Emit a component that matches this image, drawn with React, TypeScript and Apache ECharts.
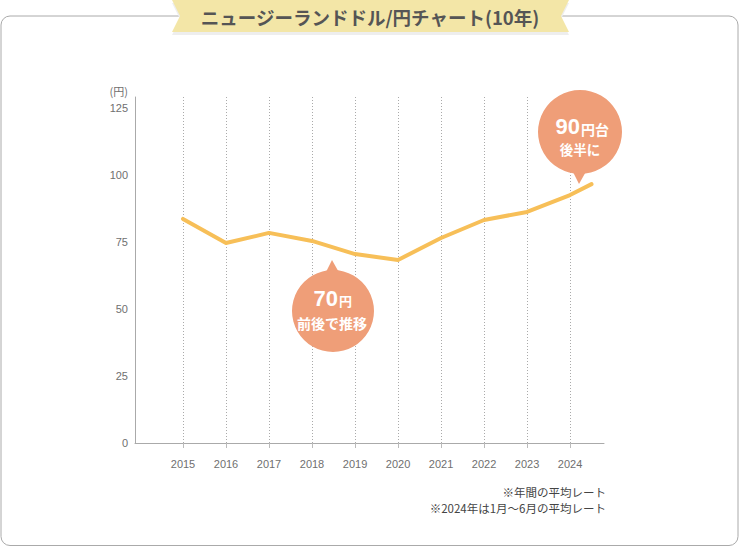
import React, { useEffect, useRef } from "react";
import * as echarts from "echarts";

const TITLE = "ニュージーランドドル/円チャート(10年)";
const tickYears = [2015, 2016, 2017, 2018, 2019, 2020, 2021, 2022, 2023, 2024];
const pointX = [2015, 2016, 2017, 2018, 2019, 2020, 2021, 2022, 2023, 2024, 2024.5];
const rateValues = [83.6, 74.6, 78.4, 75.4, 70.5, 68.3, 76.5, 83.2, 86.2, 92.5, 96.6];
const yTicks = [0, 25, 50, 75, 100, 125];
const yUnit = "(円)";
const notes = ["※年間の平均レート", "※2024年は1月〜6月の平均レート"];

const NUM_FONT = '"Liberation Sans", "DejaVu Sans", sans-serif';
const JP_FONT = '"Noto Sans CJK JP", "Noto Sans", sans-serif';
const BUBBLE = "#ef9e78";

function txt(x: number, y: number, text: string, font: string, align: string, fill = "#fff", z = 11) {
  return {
    type: "text",
    z,
    x,
    y,
    style: { text, fill, font, align, verticalAlign: "middle" },
  };
}

export default function App() {
  const ref = useRef<HTMLDivElement>(null);
  useEffect(() => {
    if (!ref.current) return;
    const chart = echarts.init(ref.current, null, { renderer: "svg" });
    const data = pointX.map((x, i) => [x, rateValues[i]]);
    chart.setOption({
      animation: false,
      backgroundColor: "#fff",
      grid: { left: 135, right: 136, top: 97, bottom: 104 },
      xAxis: {
        type: "value",
        min: 2013.884,
        max: 2024.79,
        axisLine: { show: true, onZero: false, lineStyle: { color: "#aaa", width: 1 } },
        axisTick: { show: true, customValues: tickYears, length: 5, lineStyle: { color: "#bbb" } },
        axisLabel: {
          customValues: tickYears,
          formatter: (v: number) => String(Math.round(v)),
          color: "#6f6f6f",
          fontSize: 11,
          fontFamily: NUM_FONT,
          margin: 15,
        },
        splitLine: { show: true, lineStyle: { type: [1, 2], color: "#aaa", width: 1 } },
      },
      yAxis: {
        type: "value",
        min: 0,
        max: 129.1,
        axisLine: { show: true, onZero: false, lineStyle: { color: "#aaa", width: 1 } },
        axisTick: { show: false },
        splitLine: { show: false },
        axisLabel: {
          customValues: yTicks,
          color: "#6f6f6f",
          fontSize: 11,
          fontFamily: NUM_FONT,
          margin: 7,
        },
      },
      series: [
        {
          type: "line",
          data,
          showSymbol: false,
          symbol: "none",
          lineStyle: { color: "#f7bf58", width: 4, cap: "round", join: "round" },
        },
      ],
      graphic: [
        {
          type: "rect",
          z: -10,
          shape: { x: 1, y: 16, width: 737, height: 529.5, r: 9 },
          style: { fill: "#fff", stroke: "#aaa", lineWidth: 1 },
        },
        {
          type: "polygon",
          z: 1,
          shape: { points: [[172, 3], [569, 3], [561, 19], [569, 35], [172, 35], [180, 19]] },
          style: { fill: "#eeeeee" },
        },
        {
          type: "polygon",
          z: 2,
          shape: { points: [[172, 0], [569, 0], [561, 16], [569, 32], [172, 32], [180, 16]] },
          style: { fill: "#f3e6a7" },
        },
        txt(370, 17, TITLE, `bold 18.5px ${JP_FONT}`, "center", "#555", 3),
        txt(128, 91, yUnit, `11px ${JP_FONT}`, "right", "#6f6f6f", 3),
        txt(606, 491.5, notes[0], `11.5px ${JP_FONT}`, "right", "#444", 3),
        txt(606, 507.5, notes[1], `11.5px ${JP_FONT}`, "right", "#444", 3),
        // bubble 1
        {
          type: "polygon",
          z: 10,
          shape: { points: [[332, 260], [324, 276], [341, 276]] },
          style: { fill: BUBBLE },
        },
        {
          type: "circle",
          z: 10,
          shape: { cx: 333, cy: 311, r: 41 },
          style: { fill: BUBBLE },
        },
        txt(338, 298, "70", `bold 22px ${NUM_FONT}`, "right"),
        txt(339, 300.5, "円", `bold 13px ${JP_FONT}`, "left"),
        txt(332, 323, "前後で推移", `bold 14px ${JP_FONT}`, "center"),
        // bubble 2
        {
          type: "polygon",
          z: 10,
          shape: { points: [[579, 184], [571, 168], [588, 168]] },
          style: { fill: BUBBLE },
        },
        {
          type: "circle",
          z: 10,
          shape: { cx: 580, cy: 132, r: 42 },
          style: { fill: BUBBLE },
        },
        txt(580, 126, "90", `bold 22px ${NUM_FONT}`, "right"),
        txt(581, 129, "円台", `bold 14px ${JP_FONT}`, "left"),
        txt(580, 148.5, "後半に", `bold 13.5px ${JP_FONT}`, "center"),
      ],
    });
    return () => chart.dispose();
  }, []);
  return (
    <div
      ref={ref}
      style={{ position: "fixed", left: 0, top: 0, width: 740, height: 547 }}
    />
  );
}
